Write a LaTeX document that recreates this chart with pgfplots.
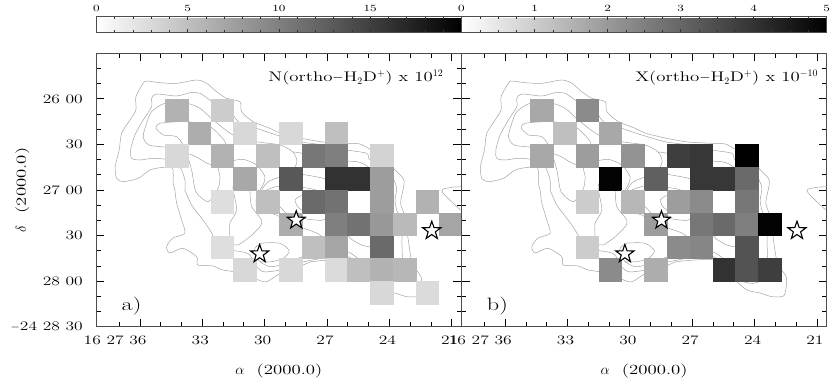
\documentclass[border=0pt]{standalone}
\usepackage{fontspec}
\usepackage{pgfplots}
\usepackage{pgfplotstable}
\pgfplotsset{compat=1.18}
\newfontfamily\wide[FakeStretch=1.35]{Latin Modern Roman}
\pgfplotstableread[row sep=\\]{px py\\ 175 190\\ 173.3 183.3\\ 172.7 168.3\\ 163.3 167.3\\ 150 170\\ 138.3 178.3\\ 123.3 181.7\\ 116.7 178.3\\ 115.3 166.7\\ 119.3 150\\ 121.7 133.3\\ 130 120\\ 136 110\\ 136 96.7\\ 143.3 83.3\\ 146.7 81\\ 160 82.7\\ 176.7 83.3\\ 196.7 80\\ 206.7 83.3\\ 216.7 91.7\\ 226.7 98.3\\ 240 101.7\\ 241.7 111.7\\ 253.3 121.7\\ 270 128.3\\ 280 133\\ 300 138\\ 323 142\\ 346.7 143.3\\ 360 144\\ 370.7 150\\ 373 156.7\\ 386.7 160\\ 393.3 168\\ 403 178\\ 404 185\\ 400.7 203\\ 405 216.7\\ 408.3 240\\ 412.3 263.3\\ 421 276.7\\ 421 286.7\\ 418.3 296\\ 406.7 296.7\\ 395 293\\ 381.7 290\\ 370 280\\ 360 270\\ 348 260\\ 330 260\\ 310 262\\ 300 266.7\\ 283 271.7\\ 266.7 281.7\\ 256.7 279.3\\ 240 272.7\\ 223 270\\ 213 266\\ 198 265\\ 196.7 256.7\\ 183 248.3\\ 170 253\\ 166.7 246.7\\ 173 238\\ 185 233.3\\ 181.7 220\\ 176.7 203\\ 175 190\\}\cA
\pgfplotstableread[row sep=\\]{px py\\ 185 190\\ 185 180\\ 180 166.7\\ 170 160\\ 153.3 158.3\\ 140 160\\ 131.7 158.3\\ 130.7 150\\ 135 135\\ 143.3 120\\ 151.7 106.7\\ 151.7 98.3\\ 156.7 94\\ 176.7 96\\ 190 92.7\\ 200 93.3\\ 210 100\\ 223.3 108.3\\ 233.3 115\\ 238.3 121.7\\ 256.7 128.3\\ 276.7 135\\ 300 141.7\\ 323.3 145\\ 346.7 150\\ 366.7 153.3\\ 370 160\\ 386.7 166.7\\ 393 178\\ 396.7 188\\ 395 200\\ 396.7 210\\ 401.7 223.3\\ 402 245\\ 402.3 263\\ 400 276.7\\ 391.7 282.7\\ 383.3 283\\ 370 278\\ 358 263\\ 348.3 256.7\\ 338 255\\ 323 258\\ 300 262.7\\ 280 270\\ 263.3 271.7\\ 255 265\\ 250 255\\ 243 252\\ 230 250\\ 220 246.7\\ 210 230\\ 203 220\\ 191.7 205\\ 185 190\\}\cB
\pgfplotstableread[row sep=\\]{px py\\ 156 128.3\\ 160 123.3\\ 186.7 121.7\\ 210 126.7\\ 225 141.7\\ 225 153.3\\ 218.3 166.7\\ 220 176.7\\ 218.3 188.3\\ 208.3 201.7\\ 196 191.7\\ 191.7 170\\ 185 148.3\\ 176.7 136.7\\ 163.3 135\\ 156 128.3\\}\cC
\pgfplotstableread[row sep=\\]{px py\\ 197.3 133.3\\ 200 127.3\\ 205 133.3\\ 205 141.7\\ 200.7 143.3\\ 197.3 138.3\\ 197.3 133.3\\}\cD
\pgfplotstableread[row sep=\\]{px py\\ 461.7 186.7\\ 451.7 187.3\\ 442.7 189.3\\ 443 193\\ 455 205\\ 460.7 210\\}\cE
\pgfplotstableread[row sep=\\]{px py\\ 250 190\\ 253 180\\ 245 173\\ 238 177\\ 233 187\\ 236.7 210\\ 230 223\\ 230 236.7\\ 231.7 243.3\\ 238 245\\ 250 236.7\\ 260 226.7\\ 261.7 220\\ 251.7 206.7\\ 250 190\\}\cF
\pgfplotstableread[row sep=\\]{px py\\ 381 243\\ 373 247\\ 361.7 245\\ 350 238\\ 345 228\\ 335 228\\ 331.7 233\\ 325 238\\ 316.7 233\\ 303 228\\ 288 223\\ 276.7 215\\ 263 211.7\\ 256.7 206.7\\ 256.7 196.7\\ 263 185\\ 265 176.7\\ 256.7 165\\ 243 159.3\\ 230 161.7\\ 220 167\\ 206.7 163\\ 196.7 157\\ 186.7 153\\ 178 150\\ 166.7 147.3\\ 149 145\\ 143.3 136.7\\ 146.7 123.3\\ 151.7 111.7\\ 165 103.3\\ 186.7 103.3\\ 200 108.3\\ 213.3 120\\ 233.3 135\\ 256.7 141.7\\ 280 145\\ 293 152\\ 297 161.7\\ 292.7 173.3\\ 300 174\\ 323.3 178.3\\ 338 185\\ 348 176.7\\ 358 173.3\\ 369 180\\ 371.7 190\\ 373 210\\ 380 230\\ 381 243\\}\cG
\pgfplotstableread[row sep=\\]{px py\\ 293 152\\ 302 153.3\\ 323.3 160\\ 356.7 161.7\\ 368 166.7\\ 376.7 176.7\\ 380 190\\ 380 206.7\\ 386.7 220\\ 390 243\\ 391.7 256.7\\ 391 268\\ 383 271.7\\ 370 266.7\\ 358 258.3\\ 348 252\\ 330 250\\ 323 253.3\\ 303 256.7\\ 280 265\\ 270 266.7\\ 260 261.7\\ 255 253\\ 255 248.3\\ 261.7 243.3\\ 280 243.3\\ 289.3 251\\ 283.3 258.3\\ 271.7 261.7\\ 260 261.7\\}\cH
\pgfplotstableread[row sep=\\]{px py\\ 263 211.7\\ 260 203\\ 262 190\\ 268 182\\ 277 178\\ 292.7 173.3\\}\cI
\pgfplotstableread[row sep=\\]{px py\\ 266.7 190\\ 268 200\\ 280 206.7\\ 288.3 215\\ 303 218.3\\ 323.3 220\\ 333.3 208.3\\ 330 200\\ 320 191.7\\ 306.7 188\\ 280 186\\ 266.7 190\\}\cJ
\pgfplotstableread[row sep=\\]{px py\\ 295 200\\ 300 196\\ 313.3 196\\ 321.7 203.3\\ 321.7 208.3\\ 315 211.7\\ 301.7 210\\ 296.7 205\\ 295 200\\}\cK
% column density (left panel): RA s, Dec arcsec, value
\pgfplotstableread[row sep=\\]{ra dec v\\
34.25 1567.5 6\\ 32.05 1567.5 4\\
33.15 1582.5 6.4\\ 30.96 1582.5 3\\ 28.76 1582.5 3\\ 26.57 1582.5 5\\
34.25 1597.5 3\\ 32.05 1597.5 6\\ 29.86 1597.5 5\\ 27.67 1597.5 10.6\\ 26.57 1597.5 10\\ 24.37 1597.5 3.4\\
30.96 1612.5 6.8\\ 28.76 1612.5 13\\ 26.57 1612.5 16\\ 25.47 1612.5 16\\ 24.37 1612.5 7.6\\
32.05 1627.5 2.6\\ 29.86 1627.5 5\\ 27.67 1627.5 11.6\\ 26.57 1627.5 11\\ 24.37 1627.5 7.6\\ 22.18 1627.5 6\\
28.76 1642.5 6.4\\ 26.57 1642.5 10\\ 25.47 1642.5 11\\ 24.37 1642.5 8\\ 23.28 1642.5 5.4\\ 21.08 1642.5 7\\
32.05 1657.5 2.6\\ 27.67 1657.5 5\\ 26.57 1657.5 7\\ 24.37 1657.5 11.6\\
30.96 1672.5 3\\ 28.76 1672.5 3\\ 26.57 1672.5 2.8\\ 25.47 1672.5 5\\ 24.37 1672.5 6\\ 23.28 1672.5 5.6\\
24.37 1687.5 3\\ 22.18 1687.5 2.8\\
}\Ntab
% abundance (right panel)
\pgfplotstableread[row sep=\\]{ra dec v\\
34.25 1567.5 1.7\\ 32.05 1567.5 2.25\\
33.15 1582.5 1.25\\ 30.96 1582.5 1.7\\
34.25 1597.5 1.7\\ 32.05 1597.5 1.9\\ 29.86 1597.5 2.1\\ 27.67 1597.5 3.75\\ 26.57 1597.5 3.9\\ 24.37 1597.5 5\\
30.96 1612.5 4.9\\ 28.76 1612.5 3.1\\ 26.57 1612.5 3.9\\ 25.47 1612.5 3.9\\ 24.37 1612.5 2.9\\
32.05 1627.5 1\\ 29.86 1627.5 1.4\\ 27.67 1627.5 1.9\\ 26.57 1627.5 2.25\\ 24.37 1627.5 2.65\\
28.76 1642.5 1.9\\ 26.57 1642.5 2.65\\ 25.47 1642.5 2.9\\ 24.37 1642.5 2.5\\ 23.28 1642.5 4.9\\
32.05 1657.5 1\\ 27.67 1657.5 2.25\\ 26.57 1657.5 2.35\\ 24.37 1657.5 3.35\\
30.96 1672.5 2.25\\ 28.76 1672.5 1.6\\ 25.47 1672.5 4\\ 24.37 1672.5 3.35\\ 23.28 1672.5 3.75\\
}\Xtab
\pgfdeclareplotmark{ostar}{%
  \pgfpathmoveto{\pgfpointpolar{90}{\pgfplotmarksize}}%
  \pgfpathlineto{\pgfpointpolar{126}{0.4\pgfplotmarksize}}%
  \pgfpathlineto{\pgfpointpolar{162}{\pgfplotmarksize}}%
  \pgfpathlineto{\pgfpointpolar{198}{0.4\pgfplotmarksize}}%
  \pgfpathlineto{\pgfpointpolar{234}{\pgfplotmarksize}}%
  \pgfpathlineto{\pgfpointpolar{270}{0.4\pgfplotmarksize}}%
  \pgfpathlineto{\pgfpointpolar{306}{\pgfplotmarksize}}%
  \pgfpathlineto{\pgfpointpolar{342}{0.4\pgfplotmarksize}}%
  \pgfpathlineto{\pgfpointpolar{18}{\pgfplotmarksize}}%
  \pgfpathlineto{\pgfpointpolar{54}{0.4\pgfplotmarksize}}%
  \pgfpathclose\pgfusepathqfillstroke}
\newcommand\cont[1]{\addplot[no marks,smooth,tension=0.45,color=black!36,line width=0.5bp,forget plot] table[x expr={24+(389.4-\thisrow{px})/20.78},y expr={1530+(\thisrow{py}-53.3)/1.5189}]{#1};}
\newcommand\allcont{\cont\cA\cont\cB\cont\cC\cont\cD\cont\cE\cont\cF\cont\cG\cont\cH\cont\cI\cont\cJ\cont\cK}
\newcommand\stars{\addplot[only marks,mark=ostar,mark size=9.5bp,mark options={fill=white,draw=black,line width=1.1bp}] coordinates {(28.48,1639.9)(30.24,1662.1)(21.96,1646.8)};}
\newcommand\cells[1]{\addplot[scatter,only marks,mark=square*,mark size=11.3bp,mark options={line width=0.2bp},scatter/use mapped color={draw=mapped color,fill=mapped color},point meta=explicit] table[x=ra,y=dec,meta=v]{#1};}
\pgfplotsset{
  panel/.style={
    scale only axis,width=365.2bp,height=273.4bp,anchor=south west,
    x dir=reverse,y dir=reverse,
    xmin=20.53,xmax=38.1,ymin=1530,ymax=1710,
    xtick={36,33,30,27,24,21},
    xticklabels={\makebox[0pt][r]{16~27~}36,33,30,27,24,21},
    minor xtick={37,35,34,32,31,29,28,26,25,23,22},
    ytick={1560,1590,1620,1650,1680,1710},
    minor ytick={1540,1550,1570,1580,1600,1610,1630,1640,1660,1670,1690,1700},
    tick align=inside,tick pos=both,
    major tick length=8bp,minor tick length=4.5bp,
    every tick/.style={black,line width=0.8bp},
    axis line style={black!70,line width=1bp},
    tick label style={font=\fontsize{13}{14}\wide\selectfont},
    xticklabel style={yshift=-6bp,xshift=-2bp},
    xlabel style={font=\fontsize{14}{15}\wide\selectfont,at={(axis description cs:0.5,0)},anchor=center,yshift=-44.5bp},
    colormap={bw}{gray(0cm)=(1);gray(1cm)=(0)},
    colorbar horizontal,
  },
  bar/.style={
    at={(0,1.0753)},anchor=south west,
    scale only axis,width=365.2bp,height=16.7bp,
    xticklabel pos=upper,tick pos=both,tick align=inside,
    major tick length=4bp,minor tick length=2.5bp,
    every tick/.style={black!80,line width=0.5bp},
    axis line style={black!70,line width=0.9bp},
    /pgf/number format/assume math mode=true,
    tick label style={font=\fontsize{9.5}{10}\wide\selectfont},
    xticklabel style={yshift=1bp},
  },
}
\begin{document}
\begin{tikzpicture}[x=1bp,y=1bp]
\path[use as bounding box] (0,0) rectangle (830bp,380bp);
\begin{axis}[panel,at={(96.3bp,53.3bp)},
  yticklabels={26 00,30,27 00,30,28 00,$-$24 28 30},
  yticklabel style={xshift=-10bp},
  xlabel={$\alpha$~~(2000.0)},
  ylabel={$\delta$~~(2000.0)},
  ylabel style={font=\fontsize{14}{15}\wide\selectfont,at={(axis description cs:0,0.5)},anchor=center,yshift=74bp},
  point meta min=0,point meta max=20,
  colorbar style={bar,xmin=0,xmax=20,xtick={0,5,10,15},minor xtick={1,2,3,4,6,7,8,9,11,12,13,14,16,17,18,19}},
]
\cells\Ntab
\allcont
\stars
\node[anchor=east,font=\fontsize{14}{15}\wide\selectfont] at (axis description cs:0.96,0.91) {N(ortho$-$H$_2$D$^+$)~x~10$^{12}$};
\node[anchor=west,font=\fontsize{18}{20}\wide\selectfont] at (axis description cs:0.06,0.076) {a)};
\end{axis}
\begin{axis}[panel,at={(461.5bp,53.3bp)},
  yticklabels={},
  xlabel={$\alpha$~~(2000.0)},
  point meta min=0,point meta max=5,
  colorbar style={bar,xmin=0,xmax=5,xtick={0,1,2,3,4,5},minor xtick={0.25,0.5,0.75,1.25,1.5,1.75,2.25,2.5,2.75,3.25,3.5,3.75,4.25,4.5,4.75}},
]
\cells\Xtab
\allcont
\stars
\node[anchor=east,font=\fontsize{14}{15}\wide\selectfont] at (axis description cs:0.986,0.91) {X(ortho$-$H$_2$D$^+$)~x~10$^{-10}$};
\node[anchor=west,font=\fontsize{18}{20}\wide\selectfont] at (axis description cs:0.06,0.076) {b)};
\end{axis}
\end{tikzpicture}
\end{document}
